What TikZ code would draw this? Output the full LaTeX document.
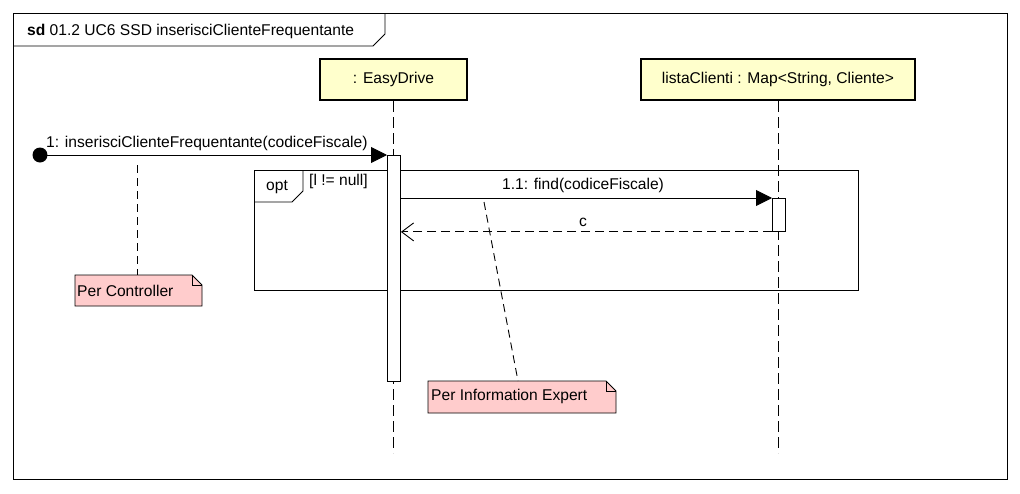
\documentclass[tikz,border=0pt]{standalone}
\usepackage{fontspec}
\setmainfont{Liberation Sans}
\usetikzlibrary{arrows.meta,calc}
\definecolor{headfill}{RGB}{255,255,204}
\definecolor{notefill}{RGB}{255,204,204}
\tikzset{
  lbl/.style={font=\fontsize{15.6}{17}\selectfont, inner sep=0pt},
  headbox/.style={draw, line width=2pt, fill=headfill, inner sep=0pt, lbl},
  actbox/.style={draw, line width=0.9pt, fill=white, inner sep=0pt},
  lifeline/.style={line width=0.9pt, dash pattern=on 11pt off 5pt},
  msg/.style={line width=0.9pt, -{Triangle[length=16pt,width=16pt]}},
  ret/.style={line width=0.9pt, dash pattern=on 9pt off 5pt, -{Straight Barb[length=12pt,width=18pt,line width=0.9pt]}},
  notelink/.style={line width=0.9pt, dash pattern=on 8pt off 5pt},
  frameline/.style={line width=0.9pt},
}
\begin{document}
\begin{tikzpicture}[x=1pt,y=-1pt]
\useasboundingbox[fill=white] (0,0) rectangle (1020,493);
% outer frame
\draw[frameline] (13,13) rectangle (1007,479);
\draw[frameline] (13,46) -- (373,46) -- (385,34) -- (385,13);
\node[lbl, anchor=west] (title) at (27,31) {\textbf{sd} 01.2 UC6 SSD inserisciClienteFrequentante};
% lifeline heads
\node[headbox, minimum width=147pt, minimum height=41pt] (ed) at (393.5,79.5) {: EasyDrive};
\node[headbox, minimum width=274pt, minimum height=41pt] (lc) at (778,79.5) {listaClienti : Map<String, Cliente>};
\coordinate (edend) at (393.5,453);
\coordinate (lcend) at (778,453);
\draw[lifeline] (ed.south) -- (edend);
\draw[lifeline] (lc.south) -- (lcend);
% opt fragment
\draw[frameline] (254,170) rectangle (858,290);
\draw[frameline] (254,202) -- (292,202) -- (303,191) -- (303,170);
\node[lbl, anchor=center] (opt) at (277,187) {opt};
\node[lbl, anchor=west] (guard) at (309,181) {[l != null]};
% activations
\node[actbox, minimum width=13pt, minimum height=226pt, anchor=north west] (act1) at (387,155) {};
\node[actbox, minimum width=13pt, minimum height=33pt, anchor=north west] (act2) at (772,198) {};
% found message
\fill (40,155) circle (7.5pt);
\coordinate (dot) at (40,155);
\draw[msg] (dot) -- (act1.north west);
\node[lbl, anchor=south west] (m1) at (46,151) {1: inserisciClienteFrequentante(codiceFiscale)};
% message 1.1
\coordinate (m11s) at (act1.east |- act2.north);
\draw[msg] (m11s) -- (act2.north west);
\node[lbl, anchor=south] (m11) at (583,193) {1.1: find(codiceFiscale)};
% return
\coordinate (rete) at (act1.east |- act2.south);
\draw[ret] (act2.south west) -- (rete);
\node[lbl, anchor=south] (retl) at (583,227) {c};
% note Per Controller
\draw[line width=0.9pt, fill=notefill] (75,275) -- (192,275) -- (202,285) -- (202,306) -- (75,306) -- cycle;
\draw[line width=0.9pt] (192,275) -- (192,285) -- (202,285);
\node[lbl, anchor=west] (n1) at (77,291) {Per Controller};
\coordinate (n1top) at (137,275);
\coordinate (n1src) at (137,165);
\draw[notelink] (n1src) -- (n1top);
% note Per Information Expert
\draw[line width=0.9pt, fill=notefill] (428,381) -- (606,381) -- (616,391) -- (616,413) -- (428,413) -- cycle;
\draw[line width=0.9pt] (606,381) -- (606,391) -- (616,391);
\node[lbl, anchor=west] (n2) at (431,396) {Per Information Expert};
\coordinate (n2top) at (518,381);
\coordinate (n2src) at (484,202);
\draw[notelink] (n2src) -- (n2top);
\end{tikzpicture}
\end{document}
